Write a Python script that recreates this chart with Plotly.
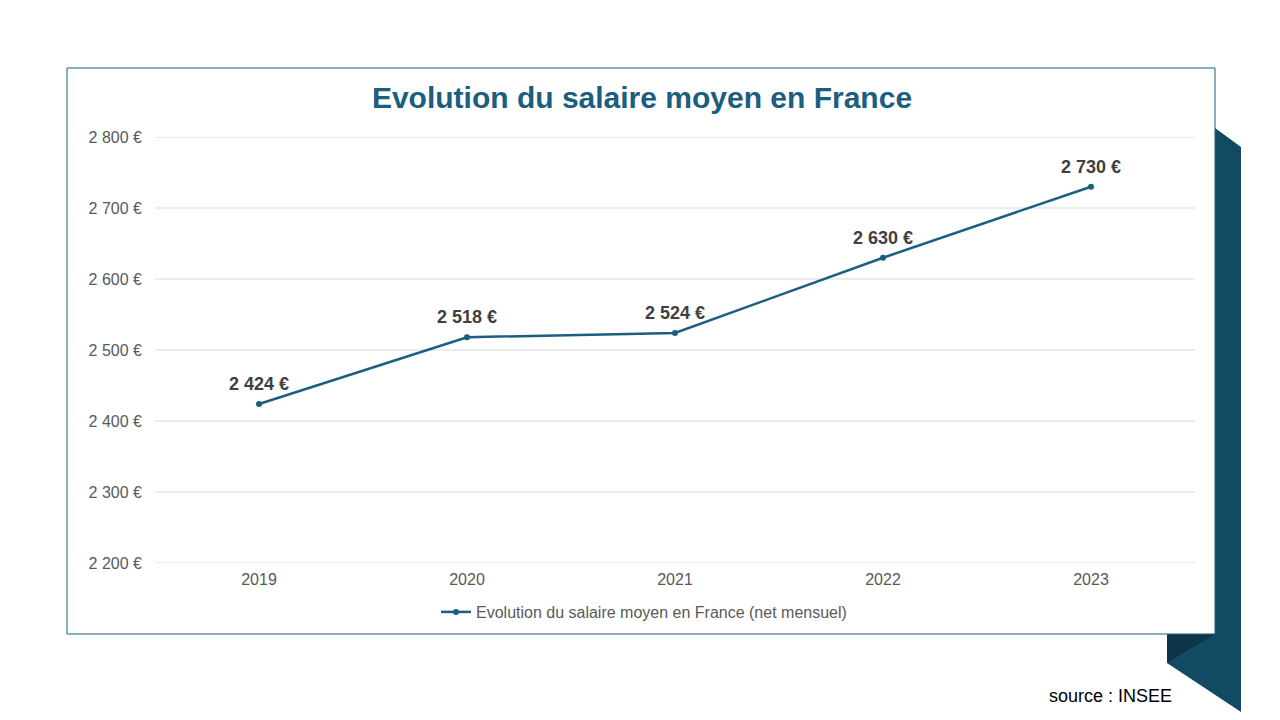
import plotly.graph_objects as go

# data
years = ["2019", "2020", "2021", "2022", "2023"]
salaire = [2424, 2518, 2524, 2630, 2730]
y_ticks = [2200, 2300, 2400, 2500, 2600, 2700, 2800]


def euro(v):
    return f"{v:,}".replace(",", " ") + " €"


TEAL = "#1B5E80"
DARK = "#134A63"
FONT = "Liberation Sans, Arial, sans-serif"

OFF = 8  # page body margin
W, H = 1280 - 2 * OFF, 720 - 2 * OFF
L, R, T, B = 155, 1195, 137, 563  # plot area in screen pixels


def px(x):
    return (x - L) / (R - L)


def py(y):
    return (B - y) / (B - T)


def path(points):
    return "M " + " L ".join(f"{px(a)},{py(b)}" for a, b in points) + " Z"


fig = go.Figure()
fig.add_trace(go.Scatter(
    x=years, y=salaire, mode="lines+markers",
    name="Evolution du salaire moyen en France (net mensuel)",
    line=dict(color=TEAL, width=2.5),
    marker=dict(color=TEAL, size=6),
    cliponaxis=False,
))

# value labels above the points (category axis -> index positions)
labels = [dict(x=i, y=v, xref="x", yref="y", text=euro(v), showarrow=False,
               yshift=20, yanchor="middle",
               font=dict(family=FONT, size=18, color="#404040", weight="bold"))
          for i, v in enumerate(salaire)]

shapes = [
    # ribbon behind the card
    dict(type="path", xref="paper", yref="paper", layer="below",
         path=path([(1215, 128), (1241, 147), (1241, 712), (1167, 663), (1167, 634), (1215, 634)]),
         fillcolor=DARK, line=dict(width=0)),
    dict(type="path", xref="paper", yref="paper", layer="below",
         path=path([(1167, 634), (1215, 634), (1167, 663)]),
         fillcolor="#0E3447", line=dict(width=0)),
    # white card with border
    dict(type="rect", xref="paper", yref="paper", layer="below",
         x0=px(67), x1=px(1215), y0=py(634), y1=py(68),
         fillcolor="white", line=dict(color=TEAL, width=1)),
]
# horizontal gridlines (drawn as shapes so the edge ones show too)
shapes += [dict(type="line", xref="paper", yref="y", layer="below",
                x0=0, x1=1, y0=v, y1=v, line=dict(color="#D9D9D9", width=1))
           for v in y_ticks]

fig.update_layout(
    width=W, height=H,
    margin=dict(l=L - OFF, r=W - (R - OFF), t=T - OFF, b=H - (B - OFF)),
    paper_bgcolor="white", plot_bgcolor="rgba(0,0,0,0)",
    font=dict(family=FONT, color="#595959", size=16),
    title=dict(text="<b>Evolution du salaire moyen en France</b>",
               x=px(642), xanchor="center", xref="paper",
               y=1 - (97 - OFF) / H, yanchor="middle",
               font=dict(family=FONT, size=30, color=TEAL)),
    shapes=shapes,
    showlegend=True,
    legend=dict(orientation="h", x=px(644), xanchor="center", y=py(612), yanchor="middle",
                itemwidth=30,
                font=dict(family=FONT, size=16, color="#595959"),
                bgcolor="rgba(0,0,0,0)"),
    annotations=labels + [dict(text="source : INSEE", xref="paper", yref="paper",
                               x=px(1110), y=py(696), xanchor="center", yanchor="middle",
                               showarrow=False, font=dict(family=FONT, size=18, color="black"))],
)
fig.update_xaxes(type="category", range=[-0.5, 4.5], showgrid=False, zeroline=False,
                 showline=False, ticks="", ticklabelstandoff=5,
                 tickfont=dict(size=16, color="#595959"))
fig.update_yaxes(range=[2200, 2800], tickmode="array", tickvals=y_ticks,
                 ticktext=[euro(v) for v in y_ticks],
                 showgrid=False, zeroline=False,
                 showline=False, ticks="", ticklabelstandoff=12,
                 tickfont=dict(size=16, color="#595959"))

fig.write_html("out.html")
